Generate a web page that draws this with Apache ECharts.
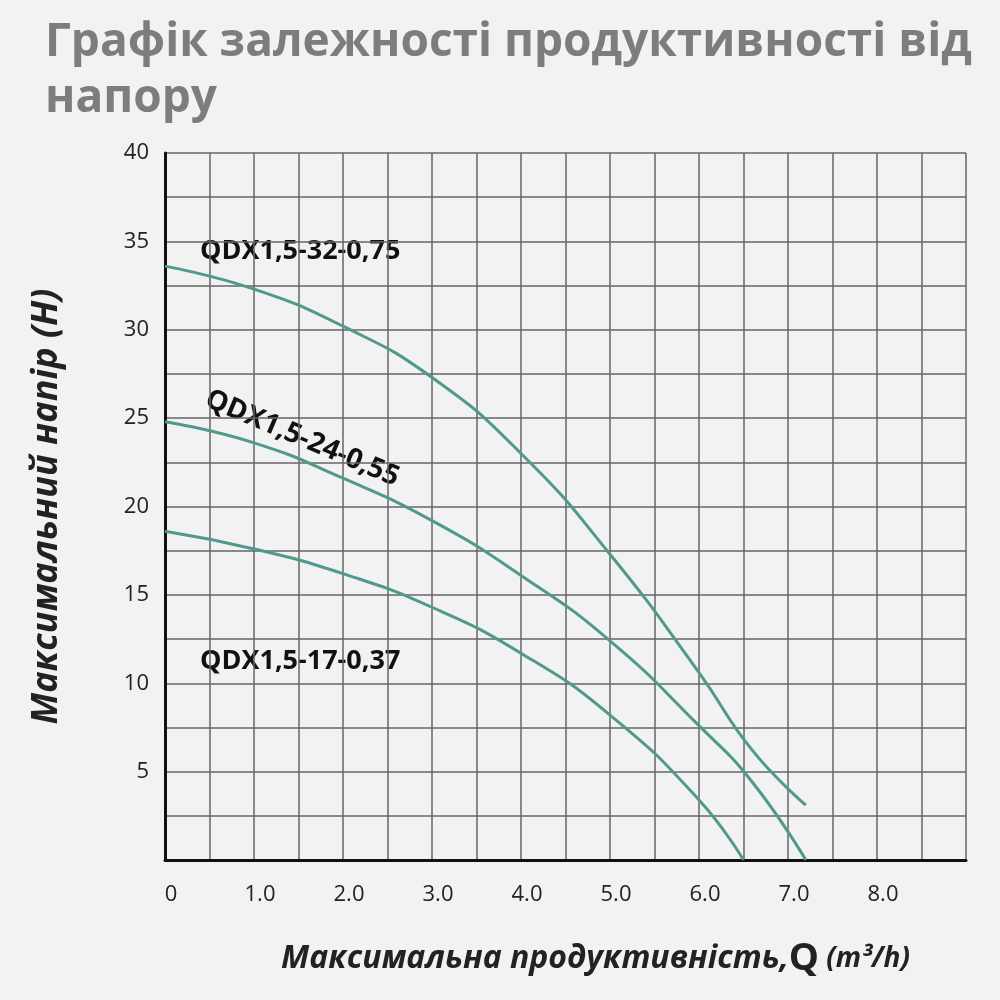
<!DOCTYPE html>
<html lang="uk">
<head>
<meta charset="UTF-8">
<title>Графік</title>
<script src="https://cdn.jsdelivr.net/npm/echarts@6/dist/echarts.min.js"></script>
</head>
<body style="margin:0;background:#f2f2f2">
<div id="chart" style="width:1000px;height:1000px"></div>
<script>
// напір для кожної моделі: [Q, H]
var head32 = [[0, 33.6], [1, 32.3], [2, 30.2], [3, 27.3], [4, 23.0], [5, 17.3], [6, 10.6], [6.6, 6.2], [7.2, 3.1]];
var head24 = [[0, 24.8], [1, 23.6], [2, 21.6], [3, 19.2], [4, 16.1], [5, 12.4], [6, 7.6], [6.6, 4.4], [7.2, 0]];
var head17 = [[0, 18.6], [1, 17.6], [2, 16.2], [3, 14.3], [4, 11.7], [5, 8.2], [6, 3.4], [6.5, 0]];
var modelNames = ['QDX1,5-32-0,75', 'QDX1,5-24-0,55', 'QDX1,5-17-0,37'];

var _chart = echarts.init(document.getElementById('chart'));
var lineColor = '#4e9a8c';
function curve(name, data) {
    return {
        name: name, type: 'line', data: data, smooth: 0.5, symbol: 'none',
        lineStyle: {color: lineColor, width: 3}
    };
}
var option = {
    backgroundColor: '#f2f2f2',
    title: {
        text: 'Графік залежності продуктивності від\nнапору',
        left: 40, top: 10,
        textStyle: {color: '#7d7d7d', fontSize: 46, fontWeight: 'bold', lineHeight: 56, fontFamily: 'Open Sans'}
    },
    grid: {left: 165, right: 34, top: 153, bottom: 140},
    xAxis: {
        type: 'value', min: 0, max: 9, interval: 0.5,
        axisLine: {lineStyle: {color: '#111', width: 3}},
        axisTick: {show: false},
        splitLine: {lineStyle: {color: '#666', width: 1.5}},
        axisLabel: {
            margin: 24, fontSize: 22, color: '#222', fontFamily: 'Open Sans', padding: [0, 0, 0, 12],
            formatter: function (v) {
                if (v === 0) return '0';
                if (v % 1 !== 0 || v > 8) return '';
                return v.toFixed(1);
            }
        },
        name: '{a|Максимальна продуктивність,}{b|Q}{c| (m³/h)}',
        nameLocation: 'middle', nameGap: 80,
        nameTextStyle: {
            padding: [0, 0, 0, 60],
            rich: {
                a: {fontSize: 32, fontStyle: 'italic', fontWeight: 'bold', color: '#222', fontFamily: 'Open Sans'},
                b: {fontSize: 38, fontWeight: 'bold', color: '#222', fontFamily: 'Open Sans'},
                c: {fontSize: 28, fontStyle: 'italic', fontWeight: 'bold', color: '#222', fontFamily: 'Open Sans'}
            }
        }
    },
    yAxis: {
        type: 'value', min: 0, max: 40, interval: 2.5,
        axisLine: {show: true, lineStyle: {color: '#111', width: 3}},
        axisTick: {show: false},
        splitLine: {lineStyle: {color: '#666', width: 1.5}},
        axisLabel: {
            margin: 16, fontSize: 22, color: '#222', fontFamily: 'Open Sans',
            formatter: function (v) { return (v % 5 === 0 && v > 0) ? String(v) : ''; }
        },
        name: 'Максимальний напір (H)',
        nameLocation: 'middle', nameGap: 100,
        nameTextStyle: {fontSize: 36, fontStyle: 'italic', fontWeight: 'bold', color: '#222', fontFamily: 'Open Sans'}
    },
    graphic: [
        {type: 'text', left: 200, top: 238, style: {text: modelNames[0], fontSize: 27, fontWeight: 'bold', fill: '#111', fontFamily: 'Open Sans'}},
        {type: 'text', x: 212, y: 385, rotation: -0.4, style: {text: modelNames[1], fontSize: 28, fontWeight: 'bold', fill: '#111', fontFamily: 'Open Sans'}},
        {type: 'text', left: 200, top: 648, style: {text: modelNames[2], fontSize: 27, fontWeight: 'bold', fill: '#111', fontFamily: 'Open Sans'}}
    ],
    series: [
        curve(modelNames[0], head32),
        curve(modelNames[1], head24),
        curve(modelNames[2], head17)
    ]
};
_chart.setOption(option, true);
</script>
</body>
</html>
